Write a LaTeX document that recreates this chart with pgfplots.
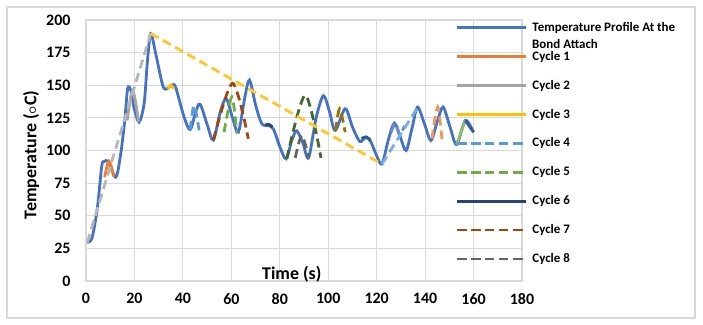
\documentclass[border=0pt]{standalone}
\usepackage{pgfplots}
\pgfplotsset{compat=1.18}
\usepackage{fontspec}
\setmainfont{Carlito}
\definecolor{cgrid}{HTML}{D9D9D9}
\definecolor{sa}{HTML}{4472C4}
\definecolor{sb}{HTML}{ED7D31}
\definecolor{sc}{HTML}{A5A5A5}
\definecolor{sd}{HTML}{FFC000}
\definecolor{se}{HTML}{5B9BD5}
\definecolor{sf}{HTML}{70AD47}
\definecolor{sg}{HTML}{264478}
\definecolor{sh}{HTML}{9E480E}
\definecolor{si}{HTML}{636363}
\definecolor{sj}{HTML}{997300}
\definecolor{sk}{HTML}{255E91}
\definecolor{sl}{HTML}{43682B}
\definecolor{sm}{HTML}{698ED0}
\definecolor{sn}{HTML}{F1975A}
\definecolor{so}{HTML}{B7B7B7}
\definecolor{sp}{HTML}{FFC726}
\definecolor{sq}{HTML}{7CAFDD}
\definecolor{sr}{HTML}{8CC168}
\definecolor{st}{HTML}{335AA1}
\pgfplotsset{
  legend image code/.code={\draw[mark repeat=2,mark phase=2,#1] plot coordinates {(0bp,0bp) (34.5bp,0bp) (69bp,0bp)};},
}
\begin{document}
\begin{tikzpicture}
\path[use as bounding box] (-86bp,-44bp) rectangle (617bp,281bp);
\draw[cgrid, line width=1.2bp] (-79bp,-37bp) rectangle (609bp,274bp);
\begin{axis}[
  at={(0bp,0bp)}, anchor=south west,
  scale only axis, width=436bp, height=261bp,
  clip mode=individual,
  xmin=0, xmax=180, ymin=0, ymax=200,
  xtick={0,20,...,180}, ytick={0,25,...,200},
  grid=major, major grid style={draw=cgrid, line width=1.2bp},
  axis line style={draw=cgrid, line width=1.2bp},
  major tick length=0pt,
  tick label style={font=\fontsize{16}{19}\selectfont\bfseries},
  /pgf/number format/assume math mode=true,
  xticklabel style={yshift=-9bp},
  yticklabel style={xshift=-12bp},
  xlabel={Time (s)},
  ylabel={Temperature ({\fontsize{14}{14}\selectfont\boldmath$\circ$}C)},
  label style={font=\fontsize{18}{22}\selectfont\bfseries},
  xlabel style={at={(axis description cs:0.472,0.005)}, anchor=base},
  ylabel style={at={(axis description cs:-0.126,0.483)}, anchor=center},
  legend style={at={(axis description cs:0.8486,1.000)}, anchor=north west,
    draw=none, fill=none, inner sep=0pt, outer sep=0pt,
    font=\fontsize{13}{16}\selectfont\bfseries,
    row sep=14.4bp, column sep=2.7bp},
  legend cell align=left,
  every axis plot/.append style={line width=2.8bp},
]
\addplot[sa, smooth] coordinates {
(0.5,29.5) (2.5,33) (4.7,56) (6.5,88) (7.5,91.5) (9.2,91.5) (12.3,79.5)
(14.3,97) (16,123) (17.2,147.5) (18.5,146) (19.8,133) (21.9,121.8) (24,136)
(25.3,167) (26.7,189.7) (28.8,174) (31.5,151) (32.9,147) (35.5,150) (37,148.5)
(40.5,125.6) (43,116) (45.3,129.5) (47.1,135.5) (50,120) (52.6,108) (55.5,130)
(57.9,139.7) (60.5,125) (62.9,114) (65.5,140) (67.5,154) (70,135) (72.6,120.5)
(75.5,119) (77.5,116) (80,103) (82.6,93.6) (85,108) (87,115) (89.5,106)
(91.9,94.4) (95,125) (98,142) (100.5,130) (102.9,115.4) (107,132) (110,118)
(113,107) (115.5,110) (117.5,107) (120,96) (122.2,89.7) (124.8,108) (127.3,121)
(129.8,110) (132.2,100) (134.7,118) (136.9,133.3) (139.8,120) (142.4,107.7)
(145,122) (147.4,133.3) (150.3,118) (153,104.5) (156.6,123) (160,114)};
\addlegendentry{Temperature Profile At the}
\addplot[sb, smooth] coordinates {(7.7,79.5) (9.5,92) (11.5,80)};
\addlegendentry{Cycle 1}
\addplot[sc, smooth] coordinates {(17,123) (19.3,146) (21.7,122)};
\addlegendentry{Cycle 2}
\addplot[sd, smooth] coordinates {(33.8,147) (35,150) (36.2,147.5)};
\addlegendentry{Cycle 3}
\addplot[se, smooth, dash pattern=on 9bp off 5bp] coordinates {(43,116) (44.6,134.6) (46.7,115.4)};
\addlegendentry{Cycle 4}
\addplot[sf, smooth, dash pattern=on 9bp off 5bp] coordinates {(57,114) (60.2,141) (62.3,113)};
\addlegendentry{Cycle 5}
\addplot[sg, smooth] coordinates {(74,119.5) (75.5,120) (77,118)};
\addlegendentry{Cycle 6}
\addplot[sh, smooth, dash pattern=on 9bp off 5bp] coordinates {(52.6,108) (60.5,151.5) (67,109)};
\addlegendentry{Cycle 7}
\addplot[si, smooth, dash pattern=on 9bp off 5bp] coordinates {(86.4,94.4) (89.1,111.5) (91.9,94.4)};
\addlegendentry{Cycle 8}
\addplot[sj, smooth, dash pattern=on 9bp off 5bp, forget plot] coordinates {(103,115) (104.7,132) (107,114)};
\addplot[sk, smooth, forget plot] coordinates {(113.8,109) (115.5,110.5) (117.5,108)};
\addplot[sl, smooth, dash pattern=on 9bp off 5bp, forget plot] coordinates {(82.9,93.6) (90.5,142.3) (97,94.4)};
\addplot[sm, smooth, dash pattern=on 9bp off 5bp, forget plot] coordinates {(126,114) (127.8,121) (129.5,112) (131.5,119)};
\addplot[sn, smooth, dash pattern=on 9bp off 5bp, forget plot] coordinates {(142.8,109) (145.2,133.3) (147,107.7)};
\addplot[so, dash pattern=on 9bp off 5bp, forget plot] coordinates {(0.5,29.5) (26.7,189.7)};
\addplot[sp, dash pattern=on 9bp off 5bp, forget plot] coordinates {(26.7,189.7) (121.8,90)};
\addplot[sq, dash pattern=on 9bp off 5bp, forget plot] coordinates {(122.2,89.7) (137,133.3)};
\addplot[sr, forget plot] coordinates {(153,104.5) (156.6,123)};
\addplot[st, forget plot] coordinates {(156.6,123) (160,114)};
\node[anchor=base west, inner sep=0pt, font=\fontsize{13}{16}\selectfont\bfseries] at (axis description cs:1.023,0.8927) {Bond Attach};
\end{axis}
\end{tikzpicture}
\end{document}
